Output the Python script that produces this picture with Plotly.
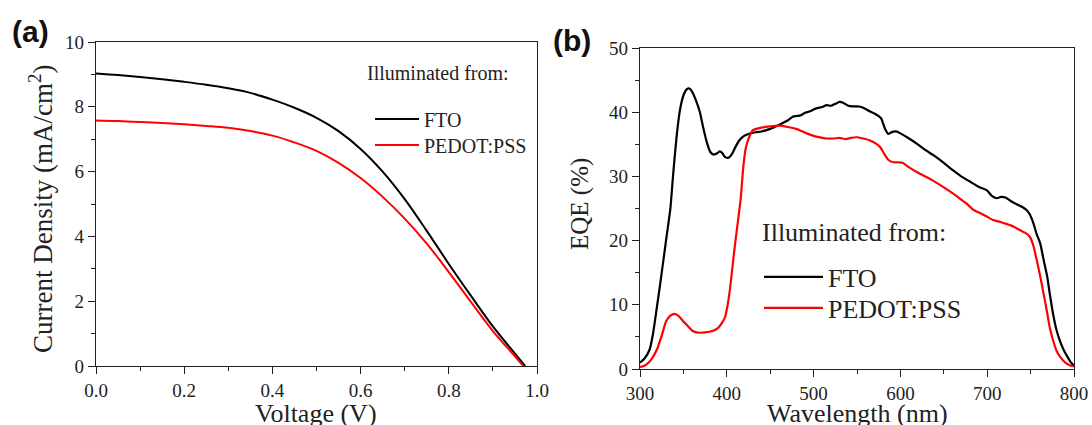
import plotly.graph_objects as go

# ---- (a) J-V curves ----
voltage_fto = [0.0, 0.05, 0.1, 0.15, 0.2, 0.25, 0.3, 0.35, 0.4, 0.45, 0.5, 0.55,
               0.6, 0.65, 0.7, 0.75, 0.8, 0.85, 0.9, 0.95, 0.973]
current_fto = [9.03, 8.98, 8.92, 8.85, 8.77, 8.68, 8.57, 8.43, 8.22, 7.97, 7.66, 7.25,
               6.7, 6.0, 5.15, 4.17, 3.15, 2.17, 1.22, 0.38, 0.0]

voltage_pedot = [0.0, 0.05, 0.1, 0.15, 0.2, 0.25, 0.3, 0.35, 0.4, 0.45, 0.5, 0.55,
                 0.6, 0.65, 0.7, 0.75, 0.8, 0.85, 0.9, 0.95, 0.969]
current_pedot = [7.58, 7.56, 7.53, 7.5, 7.46, 7.41, 7.35, 7.25, 7.11, 6.9, 6.64, 6.27,
                 5.8, 5.22, 4.55, 3.78, 2.9, 1.98, 1.08, 0.3, 0.0]

# ---- (b) EQE spectra ----
wl_fto = [300, 305, 311, 315, 319, 323, 327, 331, 335, 338, 342, 346, 350, 354, 357,
          360, 364, 369, 373, 377, 381, 385, 389, 392, 395, 398, 402, 406, 410, 415,
          420, 425, 430, 440, 450, 460, 470, 476, 480, 485, 490, 495, 503, 510, 515,
          520, 525, 530, 535, 540, 545, 550, 555, 560, 565, 570, 575, 578, 582, 586,
          590, 595, 600, 610, 620, 630, 638, 650, 660, 670, 680, 690, 700, 705, 711,
          716, 721, 728, 735, 741, 745, 749, 753, 757, 761, 765, 769, 772, 776, 780,
          784, 788, 792, 796, 800]
eqe_fto = [1.0, 1.6, 3.0, 5.5, 9.2, 13.0, 17.0, 21.0, 25.0, 30.0, 36.0, 40.3, 42.6, 43.6, 43.7,
           43.2, 42.0, 40.0, 37.5, 35.3, 33.8, 33.4, 33.6, 33.9, 33.6, 33.0, 32.9, 33.5, 34.6, 35.7,
           36.3, 36.6, 36.8, 37.0, 37.4, 38.0, 38.7, 39.3, 39.4, 39.5, 39.9, 40.1, 40.6, 40.8, 41.1,
           41.0, 41.3, 41.6, 41.4, 41.0, 40.9, 40.9, 40.8, 40.5, 40.1, 39.8, 39.4, 39.0, 37.5, 36.6,
           36.9, 37.0, 36.7, 35.9, 35.0, 34.0, 33.3, 32.1, 31.0, 30.0, 29.2, 28.4, 27.8, 27.0, 26.6,
           26.8, 26.7, 26.1, 25.6, 25.2, 24.8, 24.1, 22.8, 21.0, 19.6, 17.0, 14.5, 11.8, 8.5, 6.0,
           4.3, 3.0, 2.0, 1.1, 0.5]

wl_pedot = [300, 305, 310, 315, 320, 325, 330, 335, 340, 345, 350, 355, 360, 365, 370,
            375, 380, 385, 390, 395, 398, 401, 404, 407, 410, 413, 416, 419, 422, 426,
            430, 440, 450, 461, 470, 480, 484, 492, 503, 510, 515, 523, 530, 537, 543,
            550, 557, 565, 572, 577, 581, 586, 592, 598, 603, 610, 620, 630, 638, 650,
            660, 670, 676, 684, 690, 700, 707, 715, 722, 730, 738, 744, 749, 753, 757,
            761, 765, 768.5, 772, 776, 780, 784, 790, 795, 800]
eqe_pedot = [0.3, 0.5, 1.0, 1.9, 3.2, 5.2, 7.4, 8.3, 8.6, 8.2, 7.4, 6.7, 6.0, 5.7, 5.65,
             5.7, 5.8, 6.0, 6.4, 7.3, 8.1, 10.0, 12.8, 16.5, 20.0, 23.2, 26.5, 31.5, 34.5, 36.2,
             37.2, 37.6, 37.8, 37.9, 37.7, 37.4, 37.2, 36.7, 36.2, 36.0, 35.9, 35.9, 36.0, 35.8, 36.0,
             36.1, 35.9, 35.6, 35.1, 34.5, 33.6, 32.6, 32.2, 32.2, 32.1, 31.4, 30.6, 29.9, 29.3, 28.3,
             27.4, 26.4, 25.8, 24.8, 24.4, 23.7, 23.2, 22.9, 22.6, 22.2, 21.6, 21.2, 20.6, 19.3, 17.0,
             14.5, 11.7, 9.2, 6.5, 4.4, 2.8, 1.9, 1.0, 0.6, 0.4]

SERIF = "Liberation Serif"
SANS = "Liberation Sans"
INK = "#222"
W, H = 1092, 425

fig = go.Figure()

# one single-entry legend per curve so each entry can be placed on its own
fig.add_trace(go.Scatter(x=voltage_fto, y=current_fto, name="FTO", mode="lines",
                         line=dict(color="black", width=2, shape="spline"),
                         xaxis="x", yaxis="y", legend="legend", showlegend=True))
fig.add_trace(go.Scatter(x=voltage_pedot, y=current_pedot, name="PEDOT:PSS", mode="lines",
                         line=dict(color="#ff0000", width=2, shape="spline"),
                         xaxis="x", yaxis="y", legend="legend2", showlegend=True))
fig.add_trace(go.Scatter(x=wl_fto, y=eqe_fto, name="FTO", mode="lines",
                         line=dict(color="black", width=2.2, shape="spline", smoothing=0.5),
                         xaxis="x2", yaxis="y2", legend="legend3", showlegend=True))
fig.add_trace(go.Scatter(x=wl_pedot, y=eqe_pedot, name="PEDOT:PSS", mode="lines",
                         line=dict(color="#ff0000", width=2.2, shape="spline", smoothing=0.5),
                         xaxis="x2", yaxis="y2", legend="legend4", showlegend=True))


def axis_style(**kw):
    base = dict(
        showline=True, linecolor=INK, linewidth=1.4, mirror=True,
        ticks="outside", ticklen=7, tickwidth=1.3, tickcolor=INK,
        showgrid=False, zeroline=False, automargin=False,
        tickfont=dict(family=SERIF, size=19, color=INK),
        minor=dict(ticks="outside", ticklen=4, tickwidth=1.2, tickcolor=INK, showgrid=False),
    )
    base.update(kw)
    return base


def legend_at(x_px, y_px, size, width):
    return dict(x=x_px / W, y=1 - y_px / H, xanchor="left", yanchor="middle",
                bgcolor="rgba(0,0,0,0)", itemwidth=width, visible=True,
                font=dict(family=SERIF, size=size, color=INK))


def label(text, x_px, y_px, size, family=SERIF, angle=0, color=INK, anchor="left"):
    return dict(text=text, x=x_px / W, y=1 - y_px / H, xref="paper", yref="paper",
                xanchor=anchor, yanchor="middle", showarrow=False,
                textangle=angle, font=dict(family=family, size=size, color=color))


fig.update_layout(
    width=W, height=H, autosize=False, showlegend=True,
    margin=dict(l=0, r=0, t=0, b=0, autoexpand=False),
    paper_bgcolor="white", plot_bgcolor="white",
    xaxis=axis_style(domain=[96 / W, 537 / W], anchor="y", range=[0, 1.0],
                     dtick=0.2, tickformat=".1f", minor_dtick=0.1),
    yaxis=axis_style(domain=[1 - 366 / H, 1 - 42 / H], anchor="x", range=[0, 10],
                     dtick=2, minor_dtick=1),
    xaxis2=axis_style(domain=[640 / W, 1074 / W], anchor="y2", range=[300, 800],
                      dtick=100, minor_dtick=50),
    yaxis2=axis_style(domain=[1 - 369 / H, 1 - 48 / H], anchor="x2", range=[0, 50],
                      dtick=10, minor_dtick=5),
    legend=legend_at(370, 119, 20, 44),
    legend2=legend_at(370, 145, 20, 44),
    legend3=legend_at(759, 277, 26, 59),
    legend4=legend_at(759, 308, 26, 59),
    annotations=[
        label("<b>(a)</b>", 10, 31, 30, family=SANS, color="#111"),
        label("<b>(b)</b>", 551, 41, 30, family=SANS, color="#111"),
        label("Illuminated from:", 365, 73, 20),
        label("Illuminated from:", 760, 232, 26),
        # axis titles
        label("Voltage (V)", 316, 413, 26, anchor="center"),
        label("Wavelength (nm)", 857, 413, 26, anchor="center"),
        label("Current Density (mA/cm<sup>2</sup>)", 41, 209, 27, angle=-90, anchor="center"),
        label("EQE (%)", 580, 204, 25, angle=-90, anchor="center"),
    ],
)

fig.write_html("out.html")
